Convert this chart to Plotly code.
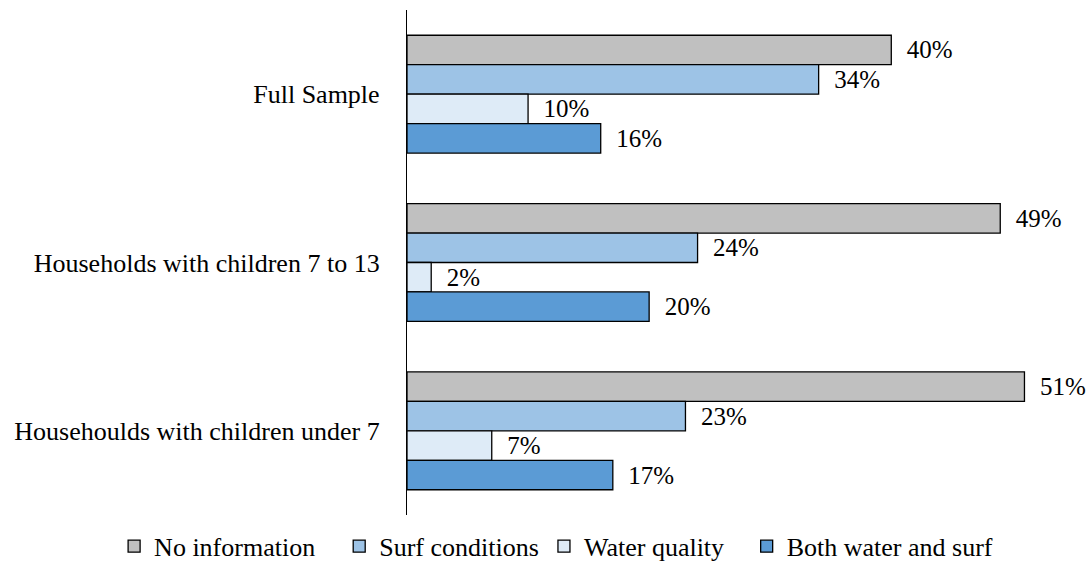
import plotly.graph_objects as go

categories = ["Full Sample", "Households with children 7 to 13", "Househoulds with children under 7"]
series_names = ["No information", "Surf conditions", "Water quality", "Both water and surf"]
no_information = [40, 49, 51]
surf_conditions = [34, 24, 23]
water_quality = [10, 2, 7]
both_water_surf = [16, 20, 17]
colors = ["#C0C0C0", "#9DC3E6", "#DEEBF7", "#5B9BD5"]

values = [no_information, surf_conditions, water_quality, both_water_surf]
legend_ids = ["legend", "legend2", "legend3", "legend4"]
legend_x = [-0.432, -0.100, 0.202, 0.501]
FONT = "Times New Roman"

fig = go.Figure()
for name, vals, col, lid in zip(series_names, values, colors, legend_ids):
    fig.add_trace(go.Bar(
        y=categories, x=vals, name=name, orientation="h", legend=lid,
        marker=dict(color=col, line=dict(color="black", width=1.3)),
        text=[f"{v}%" for v in vals],
        texttemplate="\u00a0\u00a0%{text}",
        textposition="outside", constraintext="none", cliponaxis=False,
        textfont=dict(family=FONT, size=25, color="black"),
    ))

legend_layouts = {
    lid: dict(orientation="h", x=lx, xanchor="left", y=-0.062, yanchor="middle",
              font=dict(family=FONT, size=26, color="black"), itemwidth=30,
              bgcolor="rgba(0,0,0,0)")
    for lid, lx in zip(legend_ids, legend_x)
}

fig.update_layout(
    width=1091, height=561,
    barmode="group", bargap=0.3, bargroupgap=0,
    plot_bgcolor="white", paper_bgcolor="white",
    margin=dict(l=407, r=6, t=10, b=46, autoexpand=False),
    font=dict(family=FONT, size=26, color="black"),
    showlegend=True,
    xaxis=dict(range=[0, 56], visible=False, fixedrange=True),
    yaxis=dict(autorange="reversed", showline=True, linecolor="black", linewidth=1.3,
               ticks="", ticklabelstandoff=21, showgrid=False,
               tickfont=dict(family=FONT, size=26, color="black")),
    **legend_layouts,
)

fig.write_html("out.html", config={"displayModeBar": False},
               post_script="document.body.style.margin='0';")
